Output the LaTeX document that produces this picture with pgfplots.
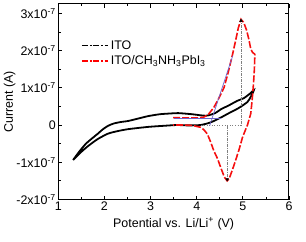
\documentclass[border=0pt]{standalone}
\usepackage{fontspec}
\setmainfont{Liberation Sans}
\usepackage{pgfplots}
\pgfplotsset{compat=1.18}
\usetikzlibrary{calc}
\definecolor{tang}{RGB}{110,100,205}
\definecolor{redc}{RGB}{245,15,15}
\begin{document}
\begin{tikzpicture}
\begin{axis}[
  scale only axis, width=230.7bp, height=195.5bp,
  xmin=1, xmax=6, ymin=-2, ymax=3.25,
  xtick={1,2,3,4,5,6}, minor x tick num=1,
  ytick={-2,-1,0,1,2,3},
  yticklabels={-2x10\textsuperscript{-7},-1x10\textsuperscript{-7},0,1x10\textsuperscript{-7},2x10\textsuperscript{-7},3x10\textsuperscript{-7}},
  minor y tick num=1,
  tick align=inside, axis line style={line width=1pt},
  major tick length=4bp, minor tick length=2.5bp,
  every tick/.style={black, line width=0.8pt},
  /pgf/number format/assume math mode=true,
  tick label style={font=\fontsize{12.5}{14}\selectfont},
  label style={font=\fontsize{12.5}{14}\selectfont},
  xticklabel style={yshift=1bp},
  yticklabel style={xshift=1bp},
  xlabel={Potential vs. Li/Li\textsuperscript{+} (V)},
  ylabel={Current (A)},
  ylabel shift=-6bp,
  legend cell align=left,
  legend style={at={(0.085,0.835)}, anchor=north west, draw=none, fill=none,
    font=\fontsize{12.5}{14}\selectfont, row sep=1bp},
]
% ITO black
\addplot[black, line width=1.8pt, smooth, tension=0.4,
  legend image code/.code={\draw[black, line width=1.8pt, dash pattern=on 6pt off 1.8pt on 1.8pt off 1.8pt] (0bp,0bp) -- (26bp,0bp);}] coordinates {
(1.32,-0.94) (1.45,-0.72) (1.6,-0.5) (1.75,-0.34) (1.86,-0.23) (1.96,-0.12) (2.08,-0.02)
(2.2,0.04) (2.35,0.08) (2.52,0.11) (2.75,0.18) (2.95,0.24) (3.2,0.29) (3.43,0.31) (3.6,0.32)
(3.9,0.29) (4.2,0.25) (4.4,0.32) (4.52,0.42) (4.7,0.53) (4.88,0.65) (5.02,0.72)
(5.15,0.84) (5.24,0.94)
(5.18,0.78) (5.1,0.62) (4.9,0.45) (4.7,0.32) (4.52,0.2) (4.3,0.07) (4.08,0.0)
(3.8,-0.01) (3.57,0.0) (3.3,-0.02) (2.95,-0.05) (2.52,-0.11) (2.3,-0.16) (2.08,-0.23)
(1.85,-0.38) (1.65,-0.56) (1.5,-0.72) (1.32,-0.94)
};
\addlegendentry{ITO}
% red
\addplot[redc, line width=1.6pt, dash pattern=on 7pt off 2pt,
  legend image code/.code={\draw[red, line width=1.7pt, dash pattern=on 6pt off 1.8pt on 1.8pt off 1.8pt] (0bp,0bp) -- (26bp,0bp);}] coordinates {
(3.49,0.2) (3.8,0.19) (4.0,0.19) (4.15,0.21) (4.25,0.28) (4.37,0.47) (4.48,0.72)
(4.59,1.0) (4.68,1.4) (4.77,1.86) (4.84,2.25) (4.9,2.6) (4.96,2.84) (5.02,2.75)
(5.08,2.55) (5.13,2.3) (5.17,2.05) (5.21,1.95) (5.26,1.9) (5.25,1.5) (5.23,1.1)
(5.2,0.65) (5.17,0.3) (5.1,0.0) (5.05,-0.15) (4.99,-0.34) (4.92,-0.65) (4.84,-0.96)
(4.76,-1.25) (4.70,-1.45) (4.66,-1.5) (4.6,-1.4) (4.52,-1.14) (4.45,-0.9) (4.37,-0.69)
(4.3,-0.45) (4.23,-0.24) (4.15,-0.12) (4.08,-0.06) (3.9,-0.01) (3.7,0.0) (3.49,0.0)
};
\addlegendentry{ITO/CH\textsubscript{3}NH\textsubscript{3}PbI\textsubscript{3}}
% gray guide lines
\addplot[gray, line width=0.6pt, dash pattern=on 3pt off 1pt on 1pt off 1pt, forget plot] coordinates {(4.96,2.84) (4.96,-0.02)};
\addplot[gray, line width=0.6pt, dotted, forget plot] coordinates {(4.10,-0.02) (4.96,-0.02)};
\addplot[gray, line width=0.6pt, dash pattern=on 3pt off 1pt on 1pt off 1pt, forget plot] coordinates {(4.66,-0.02) (4.66,-1.5)};
% tangent lines
\addplot[tang, line width=0.7pt, forget plot] coordinates {(3.5,0.18) (4.52,0.18)};
\addplot[tang, line width=0.7pt, forget plot] coordinates {(4.28,-0.02) (4.78,1.86)};
% peak markers
\addplot[only marks, mark=triangle*, mark size=1.6pt, black, forget plot] coordinates {(4.96,2.80)};
\addplot[only marks, mark=triangle*, mark size=1.6pt, black, mark options={rotate=180}, forget plot] coordinates {(4.66,-1.46)};
\end{axis}
\pgfresetboundingbox
\path[use as bounding box] ($(current axis.south west)+(-58.3bp,-42.5bp)$) rectangle ++(306bp,242bp);
\end{tikzpicture}
\end{document}
